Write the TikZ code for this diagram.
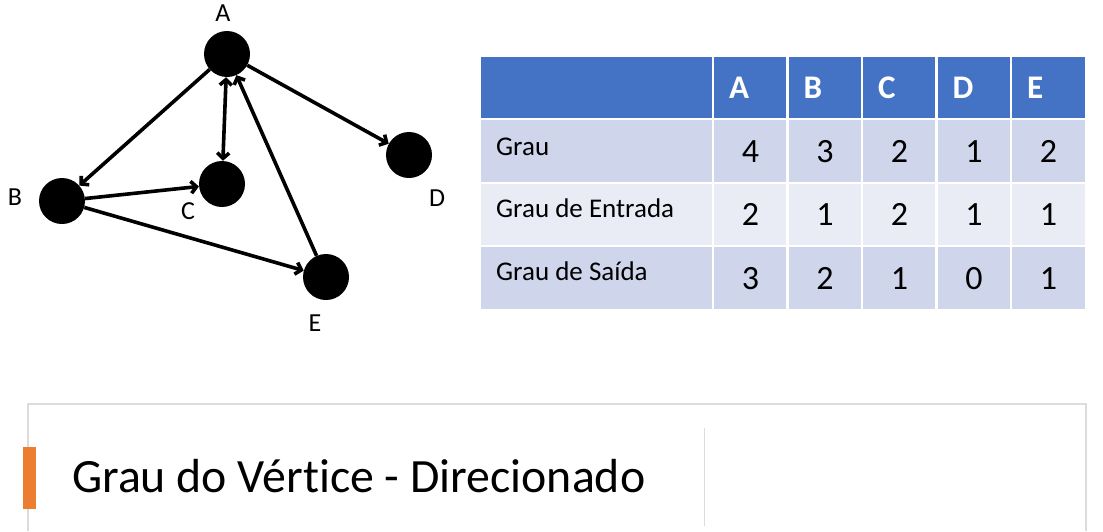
\documentclass[tikz,border=0pt]{standalone}
\usepackage{fontspec}
\setmainfont{Carlito}[Ligatures=NoCommon]
\usetikzlibrary{arrows.meta}
\definecolor{headblue}{HTML}{4472C4}
\definecolor{rowdark}{HTML}{CFD5EA}
\definecolor{rowlight}{HTML}{E9EBF5}
\definecolor{barorange}{HTML}{ED7D31}
\definecolor{framegray}{HTML}{DCDCDC}

\begin{document}
\begin{tikzpicture}[x=1pt, y=-1pt]
        % Style definitions
        \tikzset{
            vertex/.style={circle, fill=black, minimum size=46pt, inner sep=0pt},
            vlabel/.style={inner sep=0pt, font=\fontsize{26}{29}\selectfont},
            edge/.style={black, line width=3.6pt, -{Straight Barb[length=5.5pt, width=12pt]}},
            headtext/.style={text=white, anchor=west, inner sep=0pt, font=\fontsize{33}{36}\selectfont\bfseries},
            rowtext/.style={anchor=base west, inner sep=0pt, font=\fontsize{27}{30}\selectfont},
            digit/.style={anchor=base, inner sep=0pt, font=\fontsize{34}{38}\selectfont},
            gap/.style={white, line width=2.5pt}
        }

        \useasboundingbox[fill=white] (0,0) rectangle (1103,531);

        % ==========================================
        % GRAPH (vertices A to E)
        % ==========================================
        \node[vertex] (A) at (227,54) {};
        \node[vertex] (B) at (62,201) {};
        \node[vertex] (C) at (222,184) {};
        \node[vertex] (D) at (409,155) {};
        \node[vertex] (E) at (326,277) {};

        \node[vlabel] (labA) at (223,13) {A};
        \node[vlabel] (labB) at (15,197) {B};
        \node[vlabel] (labC) at (188,211) {C};
        \node[vlabel] (labD) at (437,198) {D};
        \node[vlabel] (labE) at (315,323) {E};

        % Directed edges
        \draw[edge] (A) -- (B);
        \draw[edge, {Straight Barb[length=5.5pt, width=12pt]}-{Straight Barb[length=5.5pt, width=12pt]}] (A) -- (C);
        \draw[edge] (A) -- (D);
        \draw[edge] (B) -- (C);
        \draw[edge] (B) -- (E);
        \draw[edge] (E) -- (A);

        % ==========================================
        % TABLE (header + three rows)
        % ==========================================
        \fill[headblue] (481,57) rectangle (1085,118);
        \fill[rowdark] (481,120) rectangle (1085,182);
        \fill[rowlight] (481,184) rectangle (1085,245);
        \fill[rowdark] (481,247) rectangle (1085,309);

        % White cell borders between columns
        \foreach \k in {0,...,4}
            \draw[gap] ({713+74.5*\k},57) -- ({713+74.5*\k},309);

        % Header letters
        \foreach \col [count=\c] in {A,B,C,D,E}
            \node[headtext] (h\col) at ({729+74.5*(\c-1)},87.5) {\col};

        % Row 1: Grau
        \node[rowtext] (grau) at (496,155) {Grau};
        \foreach \v [count=\c] in {4,3,2,1,2}
            \node[digit] (g\c) at ({750.5+74.5*(\c-1)},162) {\v};

        % Row 2: Grau de Entrada
        \node[rowtext] (entrada) at (496,217) {Grau de Entrada};
        \foreach \v [count=\c] in {2,1,2,1,1}
            \node[digit] (e\c) at ({750.5+74.5*(\c-1)},225.5) {\v};

        % Row 3: Grau de Saida
        \node[rowtext] (saida) at (496,280) {Grau de Saída};
        \foreach \v [count=\c] in {3,2,1,0,1}
            \node[digit] (s\c) at ({750.5+74.5*(\c-1)},289) {\v};

        % ==========================================
        % TITLE BOX
        % ==========================================
        \draw[framegray, line width=1.5pt] (28,531) -- (28,404) -- (1086,404) -- (1086,531);
        \draw[framegray, line width=1pt] (704,428) -- (704,526);
        \fill[barorange] (23,447) rectangle (36,509);
        \node[anchor=base west, inner sep=0pt, font=\fontsize{47.8}{52}\selectfont] (title) at (72,492) {Grau do Vértice - Direcionado};

    \end{tikzpicture}
\end{document}
